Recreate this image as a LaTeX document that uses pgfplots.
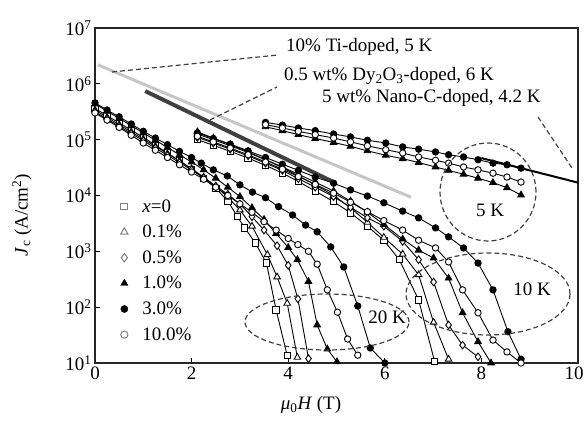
\documentclass[border=0pt]{standalone}
\usepackage{fontspec}
\setmainfont{Liberation Serif}
\usepackage{pgfplots}
\pgfplotsset{compat=1.18}
\pgfplotsset{
  base/.style={black, line width=0.9pt, forget plot},
  sq/.style={base, mark=square*, mark size=3.2pt, mark options={fill=white, solid}},
  tro/.style={base, mark=triangle*, mark size=3.8pt, mark options={fill=white, solid}},
  dia/.style={base, mark=diamond*, mark size=3.8pt, mark options={fill=white, solid}},
  trf/.style={base, mark=triangle*, mark size=3.8pt, mark options={fill=black, solid}},
  cif/.style={base, mark=*, mark size=3.2pt, mark options={fill=black, solid}},
  cio/.style={base, mark=*, mark size=3.2pt, mark options={fill=white, solid}},
  legmark/.style={legend image code/.code={\path[draw=none, fill=none] (0pt,0pt) -- (21pt,0pt); \draw[##1] plot coordinates {(5pt,0pt)};}},
}
\newcommand{\bigf}{\fontsize{19}{23}\selectfont}
\begin{document}
\begin{tikzpicture}
\begin{axis}[
  scale only axis, width=483pt, height=335pt,
  xmin=0, xmax=10, ymin=10, ymax=1e7, ymode=log,
  xtick={0,2,4,6,8,10},
  xticklabels={0,2,4,6,8,10\hspace*{8pt}},
  ytick={1e1,1e2,1e3,1e4,1e5,1e6,1e7},
  yticklabels={10\textsuperscript{1},10\textsuperscript{2},10\textsuperscript{3},10\textsuperscript{4},10\textsuperscript{5},10\textsuperscript{6},10\textsuperscript{7}},
  yminorticks=false, tick pos=left,
  axis line style={line width=1.2pt, black!85},
  tick style={black, line width=1pt}, major tick length=5pt,
  tick label style={font=\bigf},
  /pgf/number format/assume math mode=true,
  legend cell align=left,
  legend style={draw=none, fill=none, at={(0.05,0.495)}, anchor=north west, font=\bigf, row sep=7.5pt, inner sep=0pt},
]
% reference lines
\addplot[forget plot, gray!45, line width=3pt] coordinates {(0.06,2.19e6) (6.54,9.33e3)};
\addplot[forget plot, black!75, line width=4pt] coordinates {(1.04,7.41e5) (4.94,1.74e4)};
\addplot[forget plot, black, line width=2pt] coordinates {(8.0,4.68e4) (10,1.70e4)};
% ---------- 20 K ----------
\addplot[sq] coordinates {(0,3.63e5)(0.25,2.69e5)(0.5,2.0e5)(0.75,1.48e5)(1.0,1.10e5)(1.25,7.94e4)(1.5,5.75e4)(1.75,4.17e4)(2.0,2.95e4)(2.25,2.04e4)(2.5,1.35e4)(2.75,7.94e3)(2.95,4.17e3)(3.1,2.63e3)(3.32,1.41e3)(3.55,617)(3.75,89.1)(3.98,13.5)};
\addplot[tro] coordinates {(0,3.39e5)(0.25,2.51e5)(0.5,1.86e5)(0.75,1.38e5)(1.0,1.02e5)(1.25,7.59e4)(1.5,5.62e4)(1.75,4.17e4)(2.0,3.02e4)(2.25,2.14e4)(2.5,1.45e4)(2.75,9.33e3)(3.0,5.50e3)(3.25,2.82e3)(3.57,871)(3.77,347)(3.98,117)(4.19,12.6)};
\addplot[dia] coordinates {(0,3.16e5)(0.25,2.34e5)(0.5,1.74e5)(0.75,1.29e5)(1.0,9.55e4)(1.25,7.08e4)(1.5,5.25e4)(1.75,3.89e4)(2.0,2.88e4)(2.25,2.09e4)(2.5,1.48e4)(2.75,1.05e4)(3.0,7.08e3)(3.25,4.17e3)(3.5,2.40e3)(3.77,1.26e3)(4.0,562)(4.2,141)(4.42,12.0)};
\addplot[trf] coordinates {(0,4.37e5)(0.25,3.24e5)(0.5,2.40e5)(0.75,1.78e5)(1.0,1.32e5)(1.25,9.77e4)(1.5,7.24e4)(1.75,5.37e4)(2.0,3.98e4)(2.25,2.88e4)(2.5,2.04e4)(2.75,1.41e4)(3.0,9.55e3)(3.25,6.03e3)(3.5,3.72e3)(3.75,2.09e3)(4.0,1.17e3)(4.19,708)(4.42,288)(4.6,47.9)(4.81,17.8)(5.01,10.5)};
\addplot[cif] coordinates {(0,4.57e5)(0.25,3.39e5)(0.5,2.57e5)(0.75,1.91e5)(1.0,1.41e5)(1.25,1.07e5)(1.5,8.13e4)(1.75,6.17e4)(2.0,4.79e4)(2.2,3.80e4)(2.45,2.88e4)(2.74,2.24e4)(3.0,1.55e4)(3.26,1.15e4)(3.53,9.12e3)(3.8,6.31e3)(4.09,4.47e3)(4.36,2.95e3)(4.6,2.24e3)(4.88,1.20e3)(5.15,525)(5.44,105)(5.7,18.6)(6.0,10)};
\addplot[cio] coordinates {(0,3.02e5)(0.25,2.24e5)(0.5,1.66e5)(0.75,1.20e5)(1.0,8.71e4)(1.25,6.46e4)(1.5,4.79e4)(1.75,3.55e4)(2.0,2.63e4)(2.25,1.95e4)(2.5,1.41e4)(2.75,1.0e4)(3.0,7.08e3)(3.25,5.01e3)(3.5,3.39e3)(3.75,2.40e3)(4.0,1.70e3)(4.2,1.32e3)(4.42,1.0e3)(4.6,589)(4.81,204)(5.02,81.3)(5.23,26.9)(5.44,13.8)};
% ---------- 10 K ----------
\addplot[sq] coordinates {(2.12,1.0e5)(2.45,7.94e4)(2.8,6.17e4)(3.17,4.68e4)(3.53,3.47e4)(3.88,2.51e4)(4.21,1.78e4)(4.56,1.20e4)(4.94,7.76e3)(5.29,4.90e3)(5.64,2.82e3)(5.98,1.58e3)(6.3,708)(6.7,135)(7.03,10.7)};
\addplot[tro] coordinates {(2.12,1.38e5)(2.45,1.07e5)(2.8,8.13e4)(3.17,6.03e4)(3.53,4.37e4)(3.88,3.16e4)(4.21,2.24e4)(4.56,1.55e4)(4.94,1.0e4)(5.29,6.03e3)(5.64,3.31e3)(5.98,1.78e3)(6.37,891)(6.7,380)(7.01,53.7)(7.32,11.7)};
\addplot[dia] coordinates {(2.12,1.10e5)(2.45,8.71e4)(2.8,6.76e4)(3.17,5.13e4)(3.53,3.80e4)(3.88,2.82e4)(4.21,2.0e4)(4.56,1.41e4)(4.94,9.55e3)(5.29,6.17e3)(5.64,3.98e3)(5.98,2.82e3)(6.37,1.51e3)(6.7,708)(7.01,282)(7.32,47.9)(7.61,20.9)(7.93,12.9)};
\addplot[trf] coordinates {(2.12,1.26e5)(2.45,1.0e5)(2.8,7.76e4)(3.17,5.89e4)(3.53,4.37e4)(3.88,3.24e4)(4.21,2.40e4)(4.56,1.74e4)(4.94,1.20e4)(5.29,7.94e3)(5.64,5.01e3)(5.98,3.02e3)(6.37,1.66e3)(6.7,1.05e3)(7.01,759)(7.32,331)(7.61,79.4)(7.93,24.0)(8.2,10)};
\addplot[cif] coordinates {(2.12,1.32e5)(2.45,1.05e5)(2.8,8.32e4)(3.17,6.31e4)(3.53,4.79e4)(3.88,3.63e4)(4.21,2.82e4)(4.56,2.14e4)(4.94,1.66e4)(5.29,1.26e4)(5.64,9.77e3)(5.98,7.41e3)(6.37,5.25e3)(6.7,3.98e3)(7.05,2.63e3)(7.32,1.82e3)(7.63,1.15e3)(7.93,617)(8.24,204)(8.55,36.3)(8.82,11.7)};
\addplot[cio] coordinates {(2.12,1.15e5)(2.45,9.12e4)(2.8,7.08e4)(3.17,5.37e4)(3.53,3.98e4)(3.88,2.95e4)(4.21,2.19e4)(4.56,1.58e4)(4.94,1.10e4)(5.29,7.59e3)(5.64,5.13e3)(5.98,3.55e3)(6.37,2.40e3)(6.7,1.58e3)(7.05,1.15e3)(7.32,646)(7.61,204)(7.93,79.4)(8.24,25.7)(8.53,15.8)(8.82,10)};
% ---------- 5 K ----------
\addplot[trf] coordinates {(3.53,1.70e5)(3.88,1.45e5)(4.21,1.23e5)(4.56,1.05e5)(4.94,8.91e4)(5.29,7.59e4)(5.64,6.31e4)(6.02,5.25e4)(6.37,4.57e4)(6.7,3.89e4)(7.05,3.24e4)(7.32,2.82e4)(7.63,2.40e4)(7.93,2.04e4)(8.24,1.70e4)(8.53,1.38e4)(8.82,1.02e4)};
\addplot[cif] coordinates {(3.53,2.04e5)(3.88,1.82e5)(4.21,1.62e5)(4.56,1.45e5)(4.94,1.26e5)(5.29,1.12e5)(5.64,9.77e4)(6.02,8.71e4)(6.37,7.41e4)(6.7,6.76e4)(7.05,6.03e4)(7.32,5.37e4)(7.63,4.90e4)(7.93,4.37e4)(8.24,3.80e4)(8.53,3.55e4)(8.82,3.09e4)};
\addplot[cio] coordinates {(3.53,1.86e5)(3.88,1.62e5)(4.21,1.41e5)(4.56,1.23e5)(4.94,1.07e5)(5.29,9.12e4)(5.64,7.76e4)(6.02,6.61e4)(6.37,5.75e4)(6.7,4.90e4)(7.05,4.27e4)(7.32,3.80e4)(7.63,3.24e4)(7.93,2.88e4)(8.24,2.51e4)(8.53,2.14e4)(8.82,1.74e4)};
% legend
\addlegendimage{only marks, legmark, mark=square, mark size=3.4pt, draw=gray, line width=1pt}
\addlegendentry{\textit{x}=0}
\addlegendimage{only marks, legmark, mark=triangle, mark size=4.2pt, draw=gray, line width=1pt}
\addlegendentry{0.1\%}
\addlegendimage{only marks, legmark, mark=diamond, mark size=4.2pt, draw=gray, line width=1pt}
\addlegendentry{0.5\%}
\addlegendimage{only marks, legmark, mark=triangle*, mark size=4.2pt, black}
\addlegendentry{1.0\%}
\addlegendimage{only marks, legmark, mark=*, mark size=3.6pt, black}
\addlegendentry{3.0\%}
\addlegendimage{only marks, legmark, mark=o, mark size=3.6pt, draw=gray, line width=1pt}
\addlegendentry{10.0\%}
\end{axis}
% annotations (1pt = 1px of reference, axis origin at lower left)
\begin{scope}[font=\bigf]
\node[anchor=west, inner sep=0] at (191pt,316pt) {10\% Ti-doped, 5 K};
\node[anchor=west, inner sep=0] at (189pt,287pt) {0.5 wt\% Dy\textsubscript{2}O\textsubscript{3}-doped, 6 K};
\node[anchor=west, inner sep=0] at (227pt,265pt) {5 wt\% Nano-C-doped, 4.2 K};
\node at (395pt,153pt) {5 K};
\node at (437pt,74pt) {10 K};
\node at (292pt,46pt) {20 K};
\node[rotate=90] at (-73pt,148pt) {\textit{J}\textsubscript{c} (A/cm\textsuperscript{2})};
\node at (216pt,-42pt) {\textit{μ}\textsubscript{0}\textit{H} (T)};
\end{scope}
\begin{scope}[black!75, line width=1.2pt, dash pattern=on 5pt off 3pt]
\draw (17pt,291pt) -- (183pt,308pt);
\draw (115pt,243pt) -- (182pt,276pt);
\draw (443pt,246pt) -- (477pt,195pt);
\draw (393pt,171pt) ellipse [x radius=48pt, y radius=49pt];
\draw (393pt,69pt) ellipse [x radius=82pt, y radius=41pt];
\draw (232pt,41pt) ellipse [x radius=82pt, y radius=28pt];
\end{scope}
\pgfresetboundingbox
\path[use as bounding box] (-95pt,-57pt) rectangle (490pt,363pt);
\end{tikzpicture}
\end{document}
